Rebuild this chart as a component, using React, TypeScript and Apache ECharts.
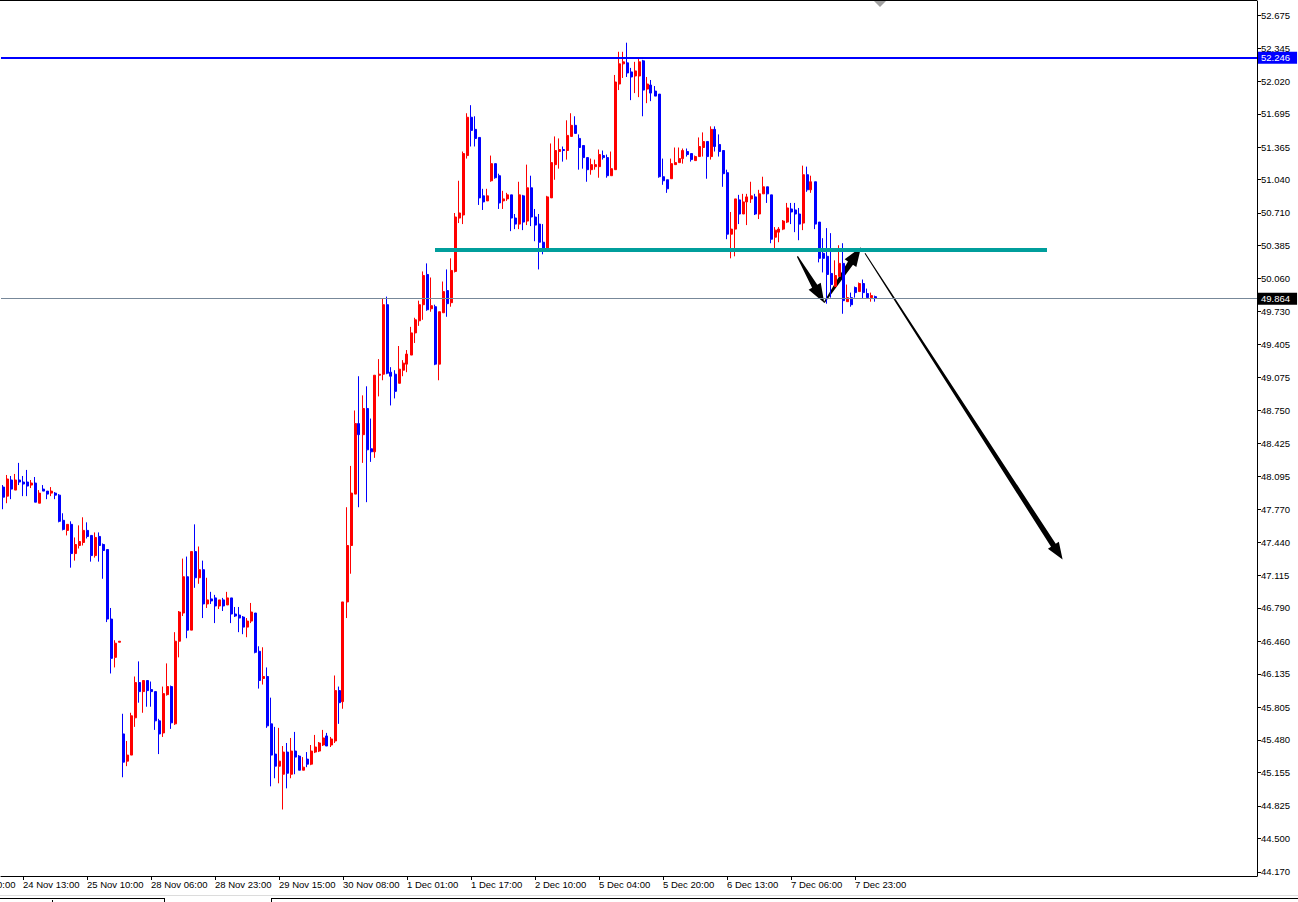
import React, { useEffect, useRef } from "react";
import * as echarts from "echarts";

// ---- Candles [open, close, low, high] ----
const SEG_NOV_23_25 = [
  [47.99, 47.89, 47.77, 48.01], [47.90, 48.07, 47.83, 48.11], [48.06, 47.97, 47.87, 48.10], [47.96, 48.06, 47.96, 48.12],
  [48.06, 48.04, 48.01, 48.23], [48.04, 48.02, 47.90, 48.10], [48.04, 48.00, 47.90, 48.16], [48.01, 48.03, 47.98, 48.06],
  [48.03, 47.84, 47.84, 48.09], [47.83, 47.93, 47.83, 47.96], [47.97, 47.95, 47.95, 48.01], [47.95, 47.92, 47.87, 47.95],
  [47.93, 47.95, 47.90, 47.99], [47.93, 47.91, 47.87, 47.94], [47.91, 47.65, 47.64, 47.92], [47.66, 47.57, 47.56, 47.73],
  [47.56, 47.62, 47.51, 47.62], [47.62, 47.33, 47.19, 47.65], [47.33, 47.42, 47.26, 47.49], [47.41, 47.45, 47.38, 47.61],
  [47.44, 47.56, 47.41, 47.69], [47.56, 47.50, 47.48, 47.64], [47.51, 47.31, 47.25, 47.51], [47.31, 47.49, 47.29, 47.54],
  [47.50, 47.41, 47.25, 47.54], [47.42, 47.36, 47.08, 47.43], [47.37, 46.68, 46.65, 47.37], [46.68, 46.29, 46.14, 46.79],
  [46.30, 46.44, 46.20, 46.47], [46.45, 46.46, 46.45, 46.46],
];
const SEG_NOV_28_30 = [
  [45.54, 45.26, 45.11, 45.74], [45.27, 45.33, 45.22, 45.47], [45.33, 45.72, 45.33, 45.75], [45.70, 46.05, 45.61, 46.11],
  [46.05, 45.96, 45.85, 46.26], [45.96, 46.07, 45.75, 46.07], [46.07, 45.97, 45.81, 46.07], [45.98, 45.96, 45.81, 46.06],
  [45.96, 45.67, 45.58, 45.96], [45.67, 45.54, 45.34, 45.69], [45.55, 45.94, 45.51, 46.01], [45.93, 46.01, 45.92, 46.24],
  [46.01, 45.65, 45.59, 46.02], [45.64, 46.46, 45.63, 46.55], [46.46, 46.75, 46.30, 46.76], [46.74, 47.10, 46.71, 47.28],
  [47.10, 46.57, 46.49, 47.30], [46.57, 47.35, 46.57, 47.35], [47.35, 47.09, 46.99, 47.62], [47.09, 47.17, 47.03, 47.40],
  [47.17, 46.83, 46.69, 47.26], [46.83, 46.87, 46.79, 47.09], [46.88, 46.86, 46.83, 46.95], [46.89, 46.81, 46.64, 46.92],
  [46.81, 46.87, 46.78, 46.87], [46.87, 46.81, 46.76, 46.89], [46.82, 46.89, 46.82, 46.95], [46.89, 46.73, 46.64, 46.89],
  [46.73, 46.71, 46.70, 46.80], [46.72, 46.69, 46.55, 46.80], [46.70, 46.60, 46.53, 46.71], [46.60, 46.66, 46.50, 46.69],
  [46.66, 46.75, 46.64, 46.84], [46.74, 46.35, 46.34, 46.74], [46.36, 46.07, 45.99, 46.41], [46.09, 46.11, 46.03, 46.40],
  [46.11, 45.62, 45.60, 46.20], [45.64, 45.33, 45.02, 45.90], [45.34, 45.22, 45.10, 45.61], [45.22, 45.27, 45.05, 45.60],
  [45.14, 45.36, 44.79, 45.42], [45.36, 45.15, 45.00, 45.45], [45.14, 45.37, 45.10, 45.50], [45.37, 45.31, 45.14, 45.56],
  [45.32, 45.18, 45.18, 45.33], [45.18, 45.21, 45.18, 45.31], [45.29, 45.24, 45.21, 45.36], [45.24, 45.37, 45.23, 45.43],
  [45.36, 45.41, 45.35, 45.53], [45.37, 45.45, 45.36, 45.46], [45.43, 45.50, 45.42, 45.58], [45.52, 45.42, 45.42, 45.55],
  [45.43, 45.49, 45.41, 45.51], [45.47, 45.97, 45.45, 46.12], [45.97, 45.85, 45.64, 46.01],
];
const SEG_NOV_30_DEC_2 = [
  [45.86, 46.85, 45.79, 46.85], [46.85, 47.41, 46.69, 47.79], [47.41, 47.93, 47.13, 48.20], [47.92, 48.62, 47.92, 48.75],
  [48.62, 48.51, 47.79, 49.09], [48.51, 48.77, 48.23, 48.90], [48.77, 48.36, 47.84, 48.99], [48.37, 48.34, 48.24, 48.67],
  [48.34, 49.10, 48.28, 49.10], [49.10, 49.11, 48.89, 49.26], [49.11, 49.80, 49.05, 49.86], [49.80, 49.12, 49.11, 49.88],
  [49.13, 49.09, 48.80, 49.18], [49.11, 48.94, 48.87, 49.15], [49.02, 49.16, 49.02, 49.39], [49.15, 49.22, 49.09, 49.25],
  [49.21, 49.31, 49.13, 49.35], [49.30, 49.52, 49.30, 49.58], [49.52, 49.65, 49.42, 49.67], [49.64, 49.80, 49.59, 49.84],
  [49.80, 50.09, 49.65, 50.13], [50.10, 49.75, 49.74, 50.21], [49.76, 49.79, 49.73, 50.07], [49.78, 49.21, 49.20, 49.80],
  [49.21, 49.73, 49.05, 49.73], [49.72, 49.93, 49.72, 50.03], [49.94, 49.81, 49.68, 50.15], [49.82, 50.14, 49.78, 50.26],
  [50.13, 50.67, 50.12, 50.71], [50.66, 50.71, 50.61, 51.03], [50.69, 51.30, 50.60, 51.32], [51.28, 51.66, 51.25, 51.70],
  [51.66, 51.53, 51.37, 51.78], [51.54, 51.45, 51.37, 51.67], [51.46, 50.86, 50.79, 51.46], [50.88, 50.82, 50.74, 50.95],
  [50.83, 50.88, 50.83, 50.95], [51.03, 51.20, 51.02, 51.28], [51.20, 51.06, 51.05, 51.20], [51.08, 50.81, 50.75, 51.10],
  [50.83, 50.85, 50.75, 50.93], [50.85, 50.89, 50.83, 50.91], [50.89, 50.66, 50.53, 50.89], [50.66, 50.60, 50.55, 50.70],
  [50.60, 50.89, 50.55, 51.02], [50.88, 50.62, 50.54, 50.89], [50.63, 50.96, 50.59, 51.19], [50.96, 50.67, 50.58, 51.08],
  [50.67, 50.59, 50.43, 50.75], [50.60, 50.42, 50.15, 50.70], [50.42, 50.34, 50.30, 50.60], [50.34, 50.87, 50.34, 50.88],
  [50.86, 51.21, 50.86, 51.40], [51.19, 51.33, 51.04, 51.47], [51.32, 51.34, 51.15, 51.45], [51.34, 51.33, 51.22, 51.37],
  [51.33, 51.48, 51.24, 51.63], [51.47, 51.58, 51.47, 51.70], [51.58, 51.50, 51.50, 51.67], [51.45, 51.36, 51.14, 51.49],
  [51.38, 51.26, 51.15, 51.38], [51.26, 51.14, 51.02, 51.26], [51.14, 51.19, 51.09, 51.25], [51.17, 51.19, 51.14, 51.24],
  [51.17, 51.29, 51.06, 51.34], [51.28, 51.26, 51.24, 51.33], [51.26, 51.08, 51.06, 51.29], [51.08, 51.15, 51.08, 51.32],
];
const SEG_DEC_5_7 = [
  [51.14, 52.01, 51.14, 52.08], [51.99, 52.19, 51.93, 52.31], [52.19, 52.21, 52.05, 52.31], [52.20, 52.10, 52.06, 52.40],
  [52.11, 52.06, 51.83, 52.15], [52.07, 52.12, 51.90, 52.21], [52.07, 52.21, 51.86, 52.25], [52.22, 51.93, 51.67, 52.23],
  [51.94, 51.99, 51.80, 52.06], [51.98, 51.90, 51.82, 52.03], [51.92, 51.87, 51.87, 51.97], [51.89, 51.07, 51.06, 51.89],
  [51.07, 51.03, 50.99, 51.25], [51.04, 50.95, 50.91, 51.04], [51.05, 51.20, 51.05, 51.25], [51.19, 51.21, 51.19, 51.36],
  [51.21, 51.25, 51.21, 51.36], [51.25, 51.33, 51.20, 51.35], [51.32, 51.29, 51.27, 51.35], [51.30, 51.24, 51.22, 51.30],
  [51.23, 51.27, 51.23, 51.28], [51.27, 51.37, 51.27, 51.46], [51.36, 51.42, 51.27, 51.51], [51.42, 51.27, 51.05, 51.42],
  [51.27, 51.54, 51.24, 51.57], [51.54, 51.37, 51.32, 51.57], [51.39, 51.32, 51.27, 51.49], [51.33, 51.10, 50.97, 51.33],
  [51.11, 50.50, 50.45, 51.14], [50.50, 50.55, 50.26, 50.72], [50.55, 50.85, 50.28, 50.85], [50.84, 50.70, 50.60, 50.89],
  [50.70, 50.82, 50.70, 50.90], [50.82, 50.87, 50.59, 50.90], [50.85, 50.88, 50.81, 51.02], [50.87, 50.70, 50.69, 50.90],
  [50.70, 50.90, 50.65, 50.94], [50.90, 50.97, 50.90, 51.07], [50.97, 50.90, 50.81, 50.97], [50.89, 50.45, 50.41, 50.89],
  [50.47, 50.54, 50.36, 50.57], [50.52, 50.55, 50.42, 50.57], [50.55, 50.63, 50.54, 50.64], [50.62, 50.76, 50.61, 50.81],
  [50.75, 50.72, 50.60, 50.81], [50.74, 50.70, 50.52, 50.81], [50.70, 50.60, 50.44, 50.76], [50.61, 51.09, 50.54, 51.18],
  [51.09, 50.94, 50.92, 51.17], [50.94, 51.02, 50.91, 51.08], [51.02, 50.60, 50.55, 51.02], [50.62, 50.26, 50.22, 50.62],
  [50.31, 50.26, 50.12, 50.46], [50.28, 50.10, 49.81, 50.56], [50.11, 50.00, 49.87, 50.51], [49.98, 50.09, 49.98, 50.24],
  [50.08, 50.21, 50.08, 50.39], [50.21, 49.84, 49.71, 50.41], [49.83, 49.87, 49.83, 50.00], [49.87, 49.80, 49.78, 49.92],
  [49.97, 49.92, 49.87, 49.98], [49.93, 50.01, 49.93, 50.02], [50.01, 49.92, 49.86, 50.05], [49.91, 49.87, 49.87, 49.96],
  [49.87, 49.89, 49.83, 49.92], [49.88, 49.864, 49.83, 49.89],
];

// ---- Axes ----
const SLOT_COUNT = 314; // bar slots across the chart (incl. empty right shift area)
const TIME_LABELS = [
  "24 Nov 13:00", "25 Nov 10:00", "28 Nov 06:00", "28 Nov 23:00", "29 Nov 15:00", "30 Nov 08:00", "1 Dec 01:00",
  "1 Dec 17:00", "2 Dec 10:00", "5 Dec 04:00", "5 Dec 20:00", "6 Dec 13:00", "7 Dec 06:00", "7 Dec 23:00",
];
const TIME_LABEL_BARS = [5, 21, 37, 53, 69, 85, 101, 117, 133, 149, 165, 181, 197, 213];
const CLIPPED_FIRST_LABEL = "23 Nov 20:00";
const Y_TICKS = [
  52.675, 52.345, 52.02, 51.695, 51.365, 51.04, 50.71, 50.385, 50.06, 49.73, 49.405, 49.075, 48.75, 48.425,
  48.095, 47.77, 47.44, 47.115, 46.79, 46.46, 46.135, 45.805, 45.48, 45.155, 44.825, 44.5, 44.17,
];
const Y_MIN = 44.13;
const Y_MAX = 52.814;

// ---- Levels & drawings ----
const RESISTANCE_LEVEL = 52.246;
const LAST_PRICE = 49.864;
const SUPPORT_FROM = [108, 50.345];
const SUPPORT_TO = [261, 50.345];
// arrows: [fromBar, fromPrice, toBar, toPrice]
const ARROWS = [
  [215.5, 50.31, 264.9, 47.27],
  [198.6, 50.28, 205.3, 49.82],
  [205.3, 49.82, 214.5, 50.37],
];
const ARROW_SHAPES = [
  { head: 17, half: 6.5, tail: 0.5, neck: 2.8 },
  { head: 19, half: 7, tail: 0.6, neck: 3 },
  { head: 19, half: 7, tail: 0.6, neck: 3 },
];

const FONT = "'Liberation Sans', Arial, sans-serif";

export default function App() {
  const ref = useRef<HTMLDivElement>(null);
  useEffect(() => {
    document.body.style.margin = "0";
    if (!ref.current) return;
    const chart = echarts.init(ref.current, undefined, { renderer: "svg" });
    const candles = [...SEG_NOV_23_25, ...SEG_NOV_28_30, ...SEG_NOV_30_DEC_2, ...SEG_DEC_5_7];
    const categories = Array.from({ length: SLOT_COUNT }, (_, i) => String(i));
    const labelAt = new Map<number, string>();
    TIME_LABEL_BARS.forEach((b, k) => labelAt.set(b, TIME_LABELS[k]));
    const showAt = (index: number) => labelAt.has(index);

    const option: any = {
      animation: false,
      backgroundColor: "#ffffff",
      grid: { left: 1, top: 1, width: 1256, height: 875, containLabel: false },
      xAxis: [
        {
          type: "category",
          data: categories,
          boundaryGap: true,
          axisLine: { show: true, onZero: false, lineStyle: { color: "#000", width: 1 } },
          axisTick: { show: true, alignWithLabel: true, interval: showAt, length: 4, lineStyle: { color: "#000" } },
          axisLabel: {
            show: true,
            interval: showAt,
            formatter: (_v: string, index: number) => labelAt.get(index) ?? "",
            align: "left",
            margin: 3,
            color: "#000",
            fontSize: 9.5,
            fontFamily: FONT,
          },
          splitLine: { show: false },
        },
        { type: "value", min: -0.5, max: SLOT_COUNT - 0.5, show: false },
      ],
      yAxis: {
        type: "value",
        position: "right",
        min: Y_MIN,
        max: Y_MAX,
        axisLine: { show: true, onZero: false, lineStyle: { color: "#000", width: 1 } },
        axisTick: { show: true, customValues: Y_TICKS, length: 4, lineStyle: { color: "#000" } },
        axisLabel: {
          show: true,
          customValues: Y_TICKS,
          formatter: (v: number) => v.toFixed(3),
          margin: 4,
          color: "#000",
          fontSize: 9.5,
          fontFamily: FONT,
        },
        splitLine: { show: false },
      },
      series: [
        {
          type: "candlestick",
          xAxisIndex: 0,
          yAxisIndex: 0,
          data: candles,
          barWidth: 2.5,
          itemStyle: {
            color: "#ff0000",
            color0: "#0000ff",
            borderColor: "#ff0000",
            borderColor0: "#0000ff",
            borderWidth: 1,
          },
          markLine: {
            silent: true,
            symbol: ["none", "none"],
            animation: false,
            data: [
              {
                yAxis: LAST_PRICE,
                lineStyle: { color: "#778899", width: 1, type: "solid" },
                label: {
                  show: true,
                  position: "end",
                  distance: 1,
                  formatter: LAST_PRICE.toFixed(3),
                  color: "#fff",
                  backgroundColor: "#000",
                  padding: [1, 7, 1, 3],
                  fontSize: 9.5,
                  fontFamily: FONT,
                },
              },
              {
                yAxis: RESISTANCE_LEVEL,
                lineStyle: { color: "#0000ff", width: 2, type: "solid" },
                label: {
                  show: true,
                  position: "end",
                  distance: 1,
                  formatter: RESISTANCE_LEVEL.toFixed(3),
                  color: "#fff",
                  backgroundColor: "#0000ff",
                  padding: [1, 7, 1, 3],
                  fontSize: 9.5,
                  fontFamily: FONT,
                },
              },
              [
                { coord: SUPPORT_FROM, lineStyle: { color: "#009e9c", width: 4, type: "solid" }, label: { show: false } },
                { coord: SUPPORT_TO, lineStyle: { color: "#009e9c", width: 4, type: "solid" }, label: { show: false } },
              ],
            ],
          },
        },
        {
          type: "custom",
          xAxisIndex: 1,
          yAxisIndex: 0,
          clip: false,
          silent: true,
          data: ARROWS,
          encode: { x: [0, 2], y: [1, 3] },
          renderItem: (params: any, api: any) => {
            const a = api.coord([api.value(0), api.value(1)]);
            const b = api.coord([api.value(2), api.value(3)]);
            const s = ARROW_SHAPES[params.dataIndex];
            const dx = b[0] - a[0];
            const dy = b[1] - a[1];
            const L = Math.hypot(dx, dy) || 1;
            const ux = dx / L, uy = dy / L;
            const nx = -uy, ny = ux;
            const bx = b[0] - ux * s.head, by = b[1] - uy * s.head;
            const pts = [
              [a[0] + nx * s.tail, a[1] + ny * s.tail],
              [bx + nx * s.neck, by + ny * s.neck],
              [bx + nx * s.half, by + ny * s.half],
              [b[0], b[1]],
              [bx - nx * s.half, by - ny * s.half],
              [bx - nx * s.neck, by - ny * s.neck],
              [a[0] - nx * s.tail, a[1] - ny * s.tail],
            ];
            return { type: "polygon", shape: { points: pts }, style: { fill: "#000" } };
          },
        },
      ],
      graphic: [
        { type: "line", shape: { x1: 0, y1: 0.5, x2: 1257, y2: 0.5 }, style: { stroke: "#000", lineWidth: 1 } },
        { type: "polygon", shape: { points: [[874, 1], [886, 1], [880, 7]] }, style: { fill: "#a0a0a0" } },
        {
          type: "text",
          x: -41,
          y: 879,
          style: { text: CLIPPED_FIRST_LABEL, fill: "#000", fontSize: 9.5, fontFamily: FONT, verticalAlign: "top" },
        },
        { type: "line", shape: { x1: 0, y1: 895.5, x2: 1298, y2: 895.5 }, style: { stroke: "#dcdcdc", lineWidth: 1 } },
        { type: "line", shape: { x1: 0, y1: 898.5, x2: 164, y2: 898.5 }, style: { stroke: "#000", lineWidth: 1 } },
        { type: "line", shape: { x1: 272, y1: 898.5, x2: 1298, y2: 898.5 }, style: { stroke: "#000", lineWidth: 1 } },
        { type: "line", shape: { x1: 164.5, y1: 898, x2: 164.5, y2: 902 }, style: { stroke: "#000", lineWidth: 1 } },
        { type: "line", shape: { x1: 271.5, y1: 898, x2: 271.5, y2: 902 }, style: { stroke: "#000", lineWidth: 1 } },
        { type: "line", shape: { x1: 52.5, y1: 900, x2: 52.5, y2: 902 }, style: { stroke: "#000", lineWidth: 1 } },
      ],
    };
    chart.setOption(option);
    return () => chart.dispose();
  }, []);
  return <div ref={ref} style={{ width: 1298, height: 902 }} />;
}
